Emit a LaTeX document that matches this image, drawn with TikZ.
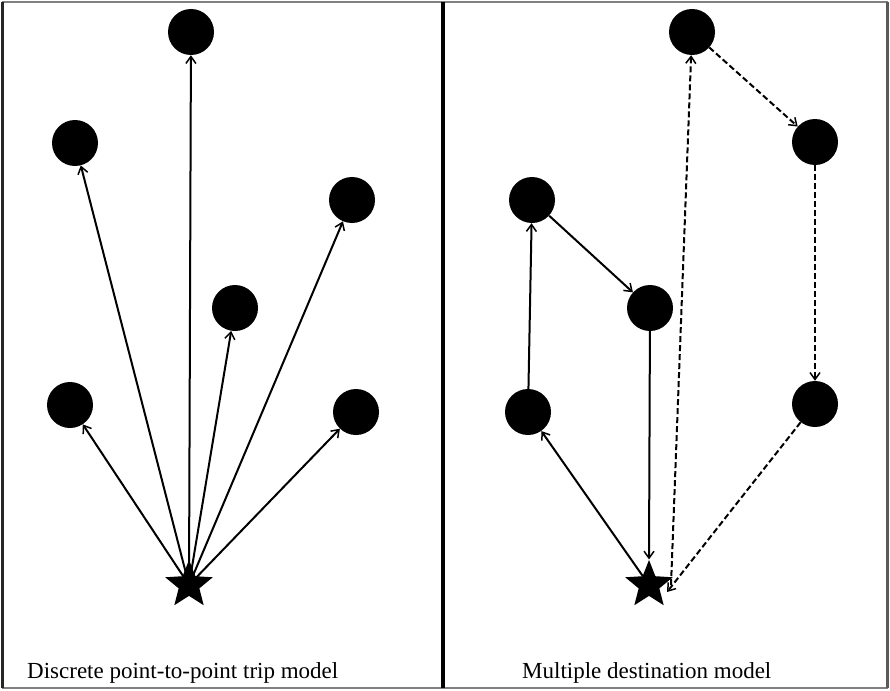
\documentclass[tikz,border=0pt]{standalone}
\usepackage{fontspec}
\setmainfont{Liberation Serif}
\usetikzlibrary{shapes.geometric,arrows.meta}
\tikzset{
  place/.style={circle,fill=black,minimum size=46pt,inner sep=0pt},
  home/.style={star,star points=5,star point ratio=2.3,fill=black,minimum size=50pt,inner sep=0pt},
  trip/.style={line width=2pt,-{Straight Barb[length=7pt,width=10pt,line width=1.5pt]}},
  tour/.style={trip,dash pattern=on 6pt off 3pt},
  caption/.style={anchor=base west,font=\fontsize{23pt}{26pt}\selectfont,inner sep=0pt}
}
\begin{document}
\begin{tikzpicture}[x=1pt,y=-1pt]
  \useasboundingbox (0,0) rectangle (890,690);
  % outer frame and divider
  \draw[gray,line width=2.5pt] (2,2) -- (888,2);
  \draw[gray,line width=2.5pt] (2,688) -- (888,688);
  \draw[black!85,line width=2.5pt] (2.5,2) -- (2.5,688);
  \draw[gray!70!black,line width=2.5pt] (887.5,2) -- (887.5,688);
  \draw[black,line width=4pt] (443,2) -- (443,688);

  % left panel: point-to-point trips
  \node[home] (s1) at (189,585) {};
  \node[place] (a1) at (191,32) {};
  \node[place] (a2) at (75,143) {};
  \node[place] (a3) at (352,200) {};
  \node[place] (a4) at (235,308) {};
  \node[place] (a5) at (70,405) {};
  \node[place] (a6) at (356,412) {};
  \foreach \t in {a1,a2,a3,a4,a5,a6}
    \draw[trip] (s1.center) -- (\t);

  % right panel: multiple destination tours
  \node[home] (s2) at (649,585) {};
  \node[place] (b1) at (692,32) {};
  \node[place] (b2) at (815,142) {};
  \node[place] (b3) at (532,200) {};
  \node[place] (b4) at (650,308) {};
  \node[place] (b5) at (528,412) {};
  \node[place] (b6) at (815,404) {};
  \draw[trip] (s2.center) -- (b5);
  \draw[trip] (b5) -- (b3);
  \draw[trip] (b3) -- (b4);
  \draw[trip] (b4) -- (s2.north);
  \draw[tour] ([xshift=22pt]s2.center) -- (b1);
  \draw[tour] (b1) -- (b2);
  \draw[tour] (b2) -- (b6);
  \draw[tour] (b6) -- ([xshift=18pt,yshift=-7pt]s2.center);

  % captions
  \node[caption] (c1) at (27,678) {Discrete point-to-point trip model};
  \node[caption] (c2) at (522,678) {Multiple destination model};
\end{tikzpicture}
\end{document}
